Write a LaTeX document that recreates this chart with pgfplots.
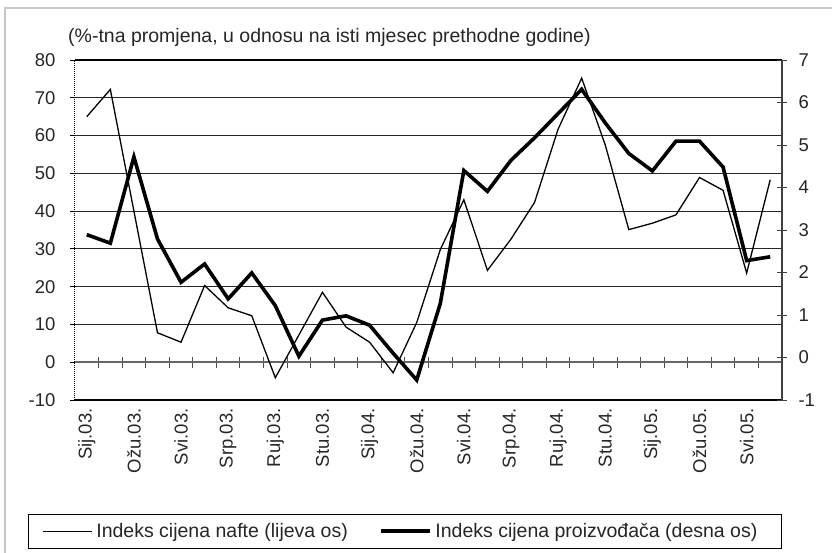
\documentclass[border=0pt]{standalone}
\usepackage{fontspec}
\setmainfont{Liberation Sans}
\usepackage{pgfplots}
\pgfplotsset{compat=1.18}

\pgfplotstableread{
x oil
0 65.0
1 72.2
2 40.0
3 7.8
4 5.3
5 20.3
6 14.4
7 12.3
8 -4.1
9 7.2
10 18.5
11 9.3
12 5.3
13 -2.8
14 10.5
15 29.8
16 43.0
17 24.3
18 32.6
19 42.3
20 61.7
21 75.2
22 57.5
23 35.1
24 36.8
25 39.0
26 48.9
27 45.5
28 23.6
29 48.3
}\oiltable

\pgfplotstableread{
x ppi
0 2.89
1 2.69
2 4.72
3 2.79
4 1.77
5 2.20
6 1.38
7 1.99
8 1.22
9 0.03
10 0.88
11 0.98
12 0.76
13 0.10
14 -0.53
15 1.27
16 4.40
17 3.91
18 4.64
19 5.17
20 5.74
21 6.31
22 5.52
23 4.80
24 4.39
25 5.09
26 5.09
27 4.48
28 2.28
29 2.37
}\ppitable

\newcommand{\tf}{\fontsize{18.5}{21}\selectfont}
\newcommand{\lf}{\fontsize{19.5}{22}\selectfont}

\pgfplotsset{
  base/.style={
    scale only axis, width=707pt, height=340pt,
    at={(0pt,0pt)}, anchor=south west,
    xmin=-0.5, xmax=29.5,
    /pgf/number format/assume math mode=true,
    tick label style={font=\tf, text=black!85},
  }
}

\begin{document}
\begin{tikzpicture}[x=1pt,y=1pt]
\path[use as bounding box] (-75,-153) rectangle (757,400);
\draw[gray!45, line width=2.5pt] (-70,-160) -- (-70,392) -- (770,392);

\node[anchor=base west, font=\fontsize{19.5}{22}\selectfont, text=black!85, inner sep=0pt] at (-7,357)
  {(\%-tna promjena, u odnosu na isti mjesec prethodne godine)};

% axis 1: grid, borders, left axis, x labels
\begin{axis}[base,
  ymin=-10, ymax=80,
  axis x line*=box, axis y line*=left,
  ytick={-10,0,...,80},
  ymajorgrids, grid style={black!85, line width=0.9pt},
  x axis line style={black, line width=1.3pt},
  y axis line style={black, line width=1pt, densely dotted},
  ytick align=outside, ytick style={black, line width=0.8pt},
  major tick length=5pt,
  xtick={0,2,...,28},
  xticklabels={Sij.03.,Ožu.03.,Svi.03.,Srp.03.,Ruj.03.,Stu.03.,Sij.04.,Ožu.04.,Svi.04.,Srp.04.,Ruj.04.,Stu.04.,Sij.05.,Ožu.05.,Svi.05.},
  xtick style={draw=none},
  x tick label style={rotate=90, anchor=east},
  xticklabel shift={5pt},
  yticklabel style={xshift=-11pt},
]
\end{axis}

% axis 3: zero line with crossing ticks, oil series
\begin{axis}[base,
  ymin=-10, ymax=80,
  axis x line=middle, axis y line=none,
  x axis line style={-, black!60, line width=1.8pt},
  xtick={0.5,1.5,...,29.5},
  xticklabels={},
  xtick align=center,
  xtick style={black!70, line width=1pt},
  major tick length=11pt,
]
\addplot[black, line width=1.3pt] table[x=x, y=oil] {\oiltable};
\end{axis}

% axis 2: right axis, PPI series, legend
\begin{axis}[base,
  ymin=-1, ymax=7,
  axis x line=none, axis y line*=right,
  ytick={-1,0,...,7},
  y axis line style={black!75, line width=2pt},
  ytick align=center, ytick style={black!75, line width=0.9pt},
  major tick length=10pt,
  yticklabel style={xshift=8pt},
  legend columns=2,
  legend image code/.code={\draw[#1] (0pt,0pt) -- (49pt,0pt);},
  legend style={at={(-0.067,-0.3353)}, anchor=north west,
    draw=black, line width=0.9pt, font=\lf, text=black!85,
    inner xsep=14pt, inner ysep=8pt,
    nodes={inner sep=1pt},
    /tikz/every even column/.append style={column sep=30pt}},
]
\addlegendimage{black, line width=1.3pt}
\addlegendentry{\hspace*{3pt}Indeks cijena nafte (lijeva os)}
\addplot[black, line width=3.6pt] table[x=x, y=ppi] {\ppitable};
\addlegendentry{\makebox[334pt][l]{\hspace*{3pt}Indeks cijena proizvođača (desna os)}}
\end{axis}
\end{tikzpicture}
\end{document}
